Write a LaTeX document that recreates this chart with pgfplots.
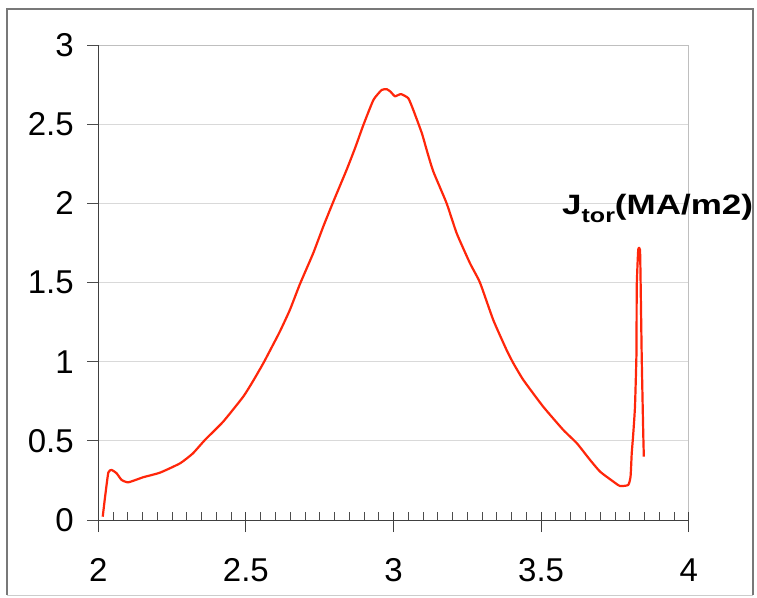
\documentclass[border=0pt]{standalone}
\usepackage{fontspec}
\setmainfont{Liberation Sans}
\usepackage{graphicx}
\usepackage{pgfplots}
\usepackage{pgfplotstable}
\pgfplotsset{compat=1.18}
\definecolor{curve}{RGB}{255,38,10}
\definecolor{frame}{RGB}{120,120,120}
\pgfplotstableread{
x y
2.015 0.021
2.023 0.147
2.034 0.300
2.045 0.316
2.062 0.295
2.079 0.253
2.102 0.238
2.152 0.270
2.209 0.299
2.277 0.358
2.320 0.420
2.361 0.505
2.423 0.621
2.491 0.779
2.525 0.880
2.559 0.990
2.590 1.100
2.615 1.190
2.649 1.327
2.683 1.490
2.728 1.685
2.762 1.853
2.796 2.010
2.841 2.211
2.870 2.350
2.898 2.495
2.932 2.653
2.960 2.716
2.977 2.721
2.990 2.705
3.005 2.676
3.025 2.690
3.050 2.664
3.067 2.590
3.096 2.443
3.115 2.320
3.135 2.200
3.180 2.000
3.214 1.811
3.259 1.622
3.293 1.499
3.338 1.263
3.383 1.074
3.406 0.990
3.440 0.884
3.507 0.716
3.575 0.569
3.621 0.485
3.666 0.379
3.700 0.305
3.745 0.242
3.767 0.215
3.795 0.221
3.803 0.274
3.807 0.421
3.812 0.540
3.818 0.716
3.823 1.053
3.824 1.474
3.829 1.706
3.835 1.706
3.837 1.516
3.841 1.011
3.846 0.548
3.848 0.400
}\jtor
\begin{document}
\begin{tikzpicture}[x=1pt,y=1pt]
\useasboundingbox (0,0) rectangle (757,597);
\fill[white] (0,0) rectangle (757,597);
\begin{axis}[
  at={(98.3pt,77pt)}, anchor=south west,
  scale only axis, width=590.4pt, height=475pt,
  xmin=2, xmax=4, ymin=0, ymax=3,
  xtick={2,2.5,3,3.5,4}, ytick={0,0.5,1,1.5,2,2.5,3},
  minor x tick num=9,
  xtick pos=bottom, ytick pos=left,
  ymajorgrids, grid style={color=black!15, line width=0.8pt},
  axis line style={draw=black!25, line width=0.8pt},
  tick align=outside, major tick length=11pt, minor tick length=8pt,
  tick style={color=black!70, line width=0.8pt},
  major x tick style={draw=none},
  minor x tick style={yshift=8pt},
  ticklabel style={font=\fontsize{33}{36}\selectfont},
  /pgf/number format/assume math mode=true,
  xticklabel style={anchor=north, yshift=-24pt},
  yticklabel style={anchor=east, xshift=-10pt},
]
\addplot[color=curve, line width=2.2pt, line join=round, smooth, tension=0.3] table[x=x, y=y] {\jtor};
\end{axis}
\begin{axis}[
  at={(98.3pt,77pt)}, anchor=south west,
  scale only axis, width=590.4pt, height=475pt,
  xmin=2, xmax=4, ymin=0, ymax=3,
  axis x line*=bottom, axis y line*=left,
  axis line style={-, draw=black!75, line width=1pt},
  xtick={2,2.5,3,3.5,4}, xticklabels={}, ytick=\empty,
  tick align=outside, major tick length=20pt,
  major x tick style={yshift=8pt, draw=black!75, line width=1pt},
]
\end{axis}
\node[anchor=base west, inner sep=0] at (562,382)
  {\scalebox{1.25}[1]{\fontsize{28}{30}\selectfont\bfseries J\raisebox{-8pt}{\fontsize{20}{20}\selectfont tor}(MA/m2)}};
\draw[frame, line width=2pt] (7,2) -- (7,588) -- (753,588) -- (753,2);
\draw[black!20, line width=1pt] (7,2) -- (753,2);
\end{tikzpicture}
\end{document}
